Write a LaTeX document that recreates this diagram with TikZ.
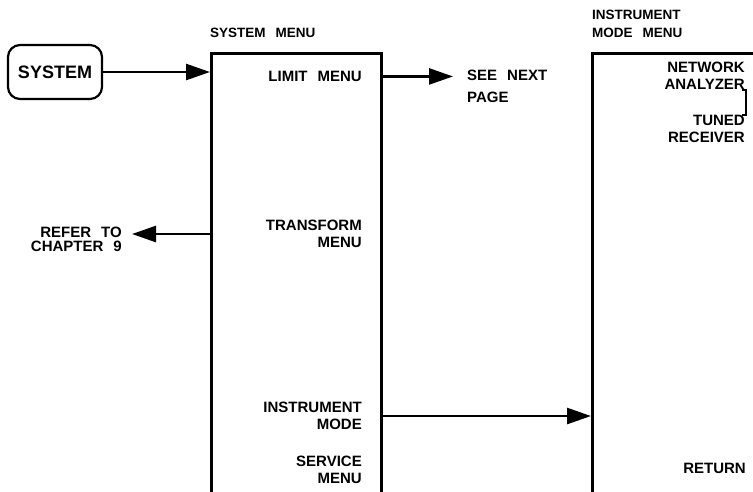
\documentclass[tikz,border=0pt]{standalone}
\usepackage{fontspec}
\setmainfont{Liberation Sans}
\usetikzlibrary{positioning, arrows.meta}
\newcommand{\gapsp}{\hspace{10pt}}

\begin{document}
\begin{tikzpicture}[
  x=1pt, y=-1pt,
  menu/.style={draw, line width=2.6pt, minimum width=170pt, minimum height=480pt, anchor=north west, inner sep=0pt},
  key/.style={draw, line width=2.2pt, rounded corners=12pt, minimum width=94pt, minimum height=54pt, font=\bfseries\fontsize{18}{20}\selectfont},
  item/.style={anchor=north east, align=right, inner sep=0pt, font=\bfseries\fontsize{15}{17}\selectfont},
  note/.style={anchor=north west, align=left, inner sep=0pt, font=\bfseries\fontsize{15}{22}\selectfont},
  head/.style={anchor=north west, align=left, inner sep=0pt, font=\bfseries\fontsize{13.5}{18}\selectfont},
  link/.style={line width=2.6pt, -{Triangle[length=24pt,width=16pt]}},
]
\useasboundingbox (0,0) rectangle (753,491);
% system key and system menu
\node[key] (sys) at (55,72) {SYSTEM};
\node[menu] (smenu) at (210,52) {};
\node[head] (stitle) at (210,28) {SYSTEM\gapsp MENU};
\node[item] (limit) at (362,71) {LIMIT\gapsp MENU};
\node[item] (transform) at (362,220) {TRANSFORM\\MENU};
\node[item] (instmode) at (362,402) {INSTRUMENT\\MODE};
\node[item] (service) at (362,456) {SERVICE\\MENU};
% side notes
\node[note] (next) at (467,70) {SEE\gapsp NEXT\\PAGE};
\node[item] (refer) at (122,227) {REFER\gapsp TO\\[-3pt]CHAPTER\gapsp 9};
% instrument mode menu
\node[menu, minimum width=220pt] (imenu) at (591,52) {};
\node[head] (ititle) at (592,10) {INSTRUMENT\\MODE\gapsp MENU};
\node[item] (netan) at (745,62) {NETWORK\\ANALYZER};
\node[item] (tuned) at (745,115) {TUNED\\RECEIVER};
\node[item] (ret) at (746,463) {RETURN};
% connectors
\draw[link] (sys.east) -- (smenu.west |- sys.east);
\draw[link] (smenu.east |- limit.east) -- ([xshift=-14pt]next.west |- limit.east);
\draw[link] (smenu.west |- transform.east) -- ([xshift=10pt]refer.east |- transform.east);
\draw[link] (smenu.east |- instmode.east) -- (imenu.west |- instmode.east);
\draw[line width=1.6pt] ([xshift=-3pt]netan.south east) -- ([xshift=1pt]netan.south east) -- ([xshift=1pt]tuned.north east) -- ([xshift=-3pt]tuned.north east);
\end{tikzpicture}
\end{document}
